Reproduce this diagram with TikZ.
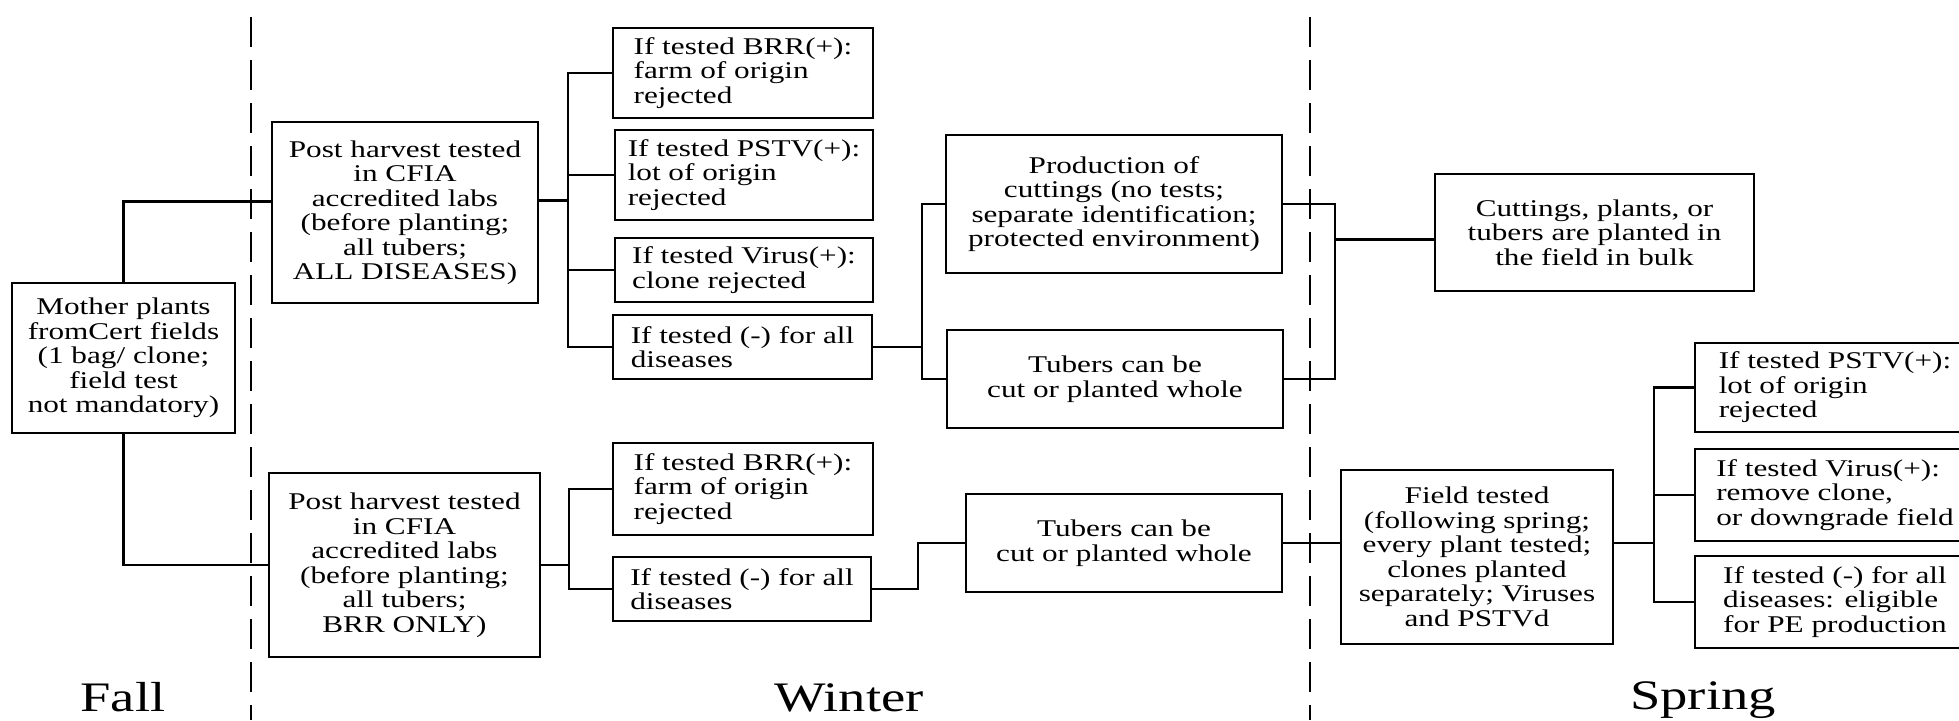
\documentclass[tikz,border=0pt]{standalone}
\usepackage{fontspec}
\setmainfont{Liberation Serif}[FakeStretch=1.3]
\tikzset{
  box/.style={draw,line width=2.8pt,inner sep=0pt,align=center,font=\fontsize{24}{24.5}\selectfont},
  lbox/.style={box,align=left},
  link/.style={line width=2.5pt,line cap=rect},
  season/.style={font=\fontsize{42}{42}\selectfont,anchor=base}
}
\begin{document}
\begin{tikzpicture}[x=1pt,y=-1pt]
\useasboundingbox (0,0) rectangle (1959,720);
% borders between the seasons
\draw[line width=2.6pt,dash pattern=on 30pt off 13pt] (251,17) -- (251,720);
\draw[line width=2.6pt,dash pattern=on 30pt off 13pt] (1310,17) -- (1310,720);

\node[box,minimum width=223pt,minimum height=150pt] (mother) at (123.5,358) {Mother plants\\ fromCert fields\\ (1 bag/ clone;\\ field test\\ not mandatory)};
\node[box,minimum width=266pt,minimum height=181pt] (ph1) at (405,212.5) {Post harvest tested\\ in CFIA\\ accredited labs\\ (before planting;\\ all tubers;\\ ALL DISEASES)};
\node[box,minimum width=271pt,minimum height=184pt] (ph2) at (404.5,565) {Post harvest tested\\ in CFIA\\ accredited labs\\ (before planting;\\ all tubers;\\ BRR ONLY)};

\node[lbox,minimum width=260pt,minimum height=90pt] (brr1) at (743,73) {If tested BRR(+):\\ farm of origin\\ rejected};
\node[lbox,minimum width=258pt,minimum height=90pt] (pstv1) at (744,175) {If tested PSTV(+):\\ lot of origin\\ rejected};
\node[lbox,minimum width=258pt,minimum height=64pt] (virus1) at (744,270) {If tested Virus(+):\\ clone rejected};
\node[lbox,minimum width=259pt,minimum height=64pt] (neg1) at (742.5,347) {If tested (-) for all\\ diseases};
\node[lbox,minimum width=260pt,minimum height=92pt] (brr2) at (743,489) {If tested BRR(+):\\ farm of origin\\ rejected};
\node[lbox,minimum width=258pt,minimum height=64pt] (neg2) at (742,589) {If tested (-) for all\\ diseases};

\node[box,minimum width=336pt,minimum height=138pt] (prod) at (1114,204) {Production of\\ cuttings (no tests;\\ separate identification;\\ protected environment)};
\node[box,minimum width=336pt,minimum height=98pt] (tub1) at (1115,379) {Tubers can be\\ cut or planted whole};
\node[box,minimum width=316pt,minimum height=98pt] (tub2) at (1124,543) {Tubers can be\\ cut or planted whole};

\node[box,minimum width=319pt,minimum height=117pt] (cut) at (1594.5,232.5) {Cuttings, plants, or\\ tubers are planted in\\ the field in bulk};
\node[box,minimum width=272pt,minimum height=174pt] (field) at (1477,557) {Field tested\\ (following spring;\\ every plant tested;\\ clones planted\\ separately; Viruses\\ and PSTVd};
\node[lbox,minimum width=280pt,minimum height=89pt] (pstv2) at (1835,387.5) {If tested PSTV(+):\\ lot of origin\\ rejected};
\node[lbox,minimum width=280pt,minimum height=92pt] (virus2) at (1835,495) {If tested Virus(+):\\ remove clone,\\ or downgrade field};
\node[lbox,minimum width=280pt,minimum height=92pt] (neg3) at (1835,602) {If tested (-) for all\\ diseases: eligible\\ for PE production};

% mother plants to the two lab tests
\coordinate (pw) at ([yshift=11pt]ph1.west);
\draw[link] (mother.north) |- (pw);
\draw[link] (mother.south) |- (ph2.west);
% all diseases branch
\coordinate (ja) at (568,0);
\coordinate (pe) at ([yshift=12pt]ph1.east);
\draw[link] (pe) -- (pe -| ja);
\draw[link] (ja |- brr1.west) -- (ja |- neg1.west);
\foreach \n in {brr1,pstv1,virus1,neg1} \draw[link] (ja |- \n.west) -- (\n.west);
\coordinate (jb) at (922,0);
\draw[link] (neg1.east) -- (neg1.east -| jb);
\draw[link] (jb |- prod.west) -- (jb |- tub1.west);
\foreach \n in {prod,tub1} \draw[link] (jb |- \n.west) -- (\n.west);
\coordinate (jc) at (1335,0);
\foreach \n in {prod,tub1} \draw[link] (\n.east) -- (\n.east -| jc);
\draw[link] (jc |- prod.east) -- (jc |- tub1.east);
\coordinate (cw) at ([yshift=-7pt]cut.west);
\draw[link] (jc |- cw) -- (cw);
% BRR only branch
\coordinate (jd) at (569,0);
\draw[link] (ph2.east) -- (ph2.east -| jd);
\draw[link] (jd |- brr2.west) -- (jd |- neg2.west);
\foreach \n in {brr2,neg2} \draw[link] (jd |- \n.west) -- (\n.west);
\coordinate (je) at (918,0);
\draw[link] (neg2.east) -- (neg2.east -| je) -- (je |- tub2.west) -- (tub2.west);
\draw[link] (tub2.east) -- (tub2.east -| field.west);
\coordinate (jf) at (1654,0);
\draw[link] (field.east |- tub2.east) -- (jf |- tub2.east);
\draw[link] (jf |- pstv2.west) -- (jf |- neg3.west);
\foreach \n in {pstv2,virus2,neg3} \draw[link] (jf |- \n.west) -- (\n.west);

\node[season] (fall) at (123,711) {Fall};
\node[season] (winter) at (849,711) {Winter};
\node[season] (spring) at (1703,709) {Spring};
\end{tikzpicture}
\end{document}
